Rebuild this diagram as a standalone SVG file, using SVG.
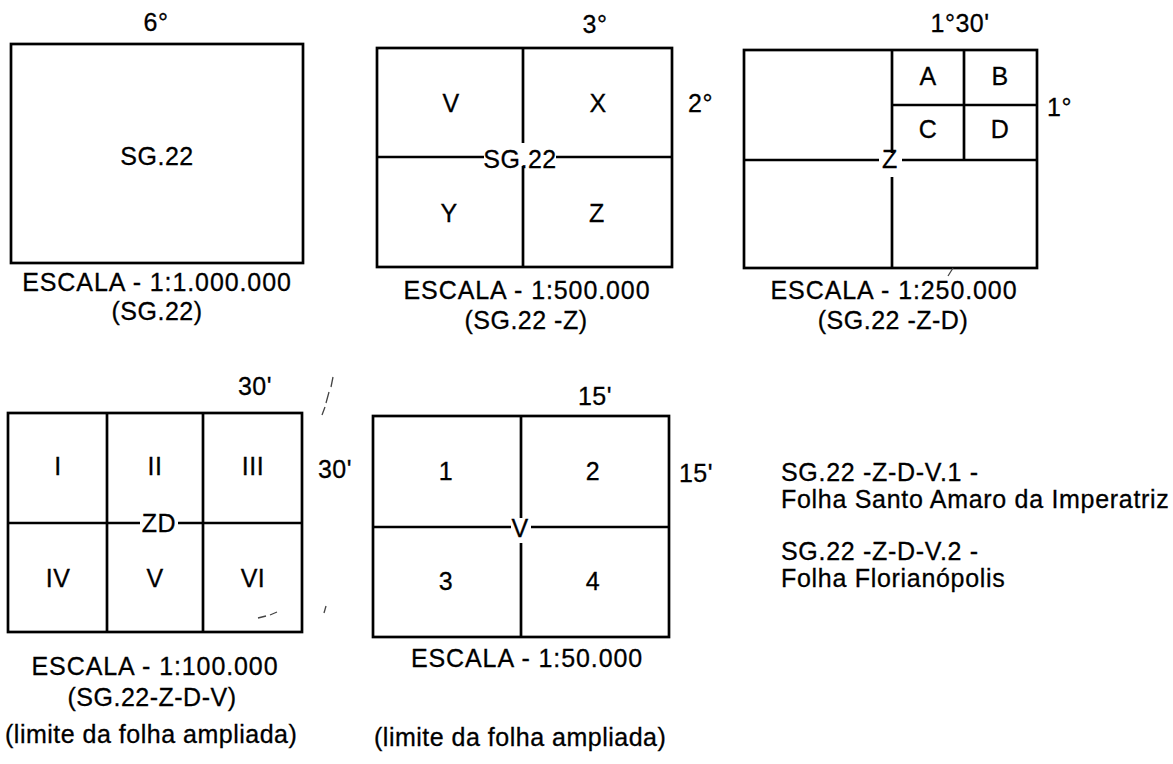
<svg xmlns="http://www.w3.org/2000/svg" width="1173" height="764" viewBox="0 0 1173 764">
<style>
.frame{fill:none;stroke:#000;stroke-width:2.7}
.ln{stroke:#000;stroke-width:2.7;fill:none}
.art{stroke:#444;stroke-width:1.3;fill:none}
text{font-family:"Liberation Sans",Arial,Helvetica,sans-serif;font-size:25px;fill:#000;stroke:#000;stroke-width:0.3;letter-spacing:0.5px}
.c{text-anchor:middle}
.esc{letter-spacing:0.9px}
.lg{letter-spacing:0.7px}
</style>
<rect width="1173" height="764" fill="#fff"/>
<g id="sheet-1000000">
<rect class="frame" x="11" y="44" width="292" height="219"/>
<text class="c" x="157" y="165">SG.22</text>
<text class="c" x="156" y="31">6°</text>
<text class="c esc" x="157" y="291">ESCALA - 1:1.000.000</text>
<text class="c" x="157" y="320">(SG.22)</text>
</g>
<g id="sheet-500000">
<rect class="frame" x="377" y="48" width="295" height="219"/>
<path class="ln" d="M377 157H484M556 157H672M523 48V143M523 166V267"/>
<text class="c" x="520" y="168">SG.22</text>
<text class="c" x="451" y="112">V</text>
<text class="c" x="598" y="112">X</text>
<text class="c" x="449" y="222">Y</text>
<text class="c" x="597" y="222">Z</text>
<text class="c" x="595" y="33">3°</text>
<text x="688" y="112">2°</text>
<text class="c esc" x="527" y="299">ESCALA - 1:500.000</text>
<text class="c" x="526" y="329">(SG.22 -Z)</text>
</g>
<g id="sheet-250000">
<rect class="frame" x="744" y="50" width="293" height="218"/>
<path class="ln" d="M744 160H879M902 160H1037M892 50V153M892 177V268M892 105H1037M964 50V160"/>
<text class="c" x="890" y="168">Z</text>
<text class="c" x="928" y="85">A</text>
<text class="c" x="1000" y="85">B</text>
<text class="c" x="928" y="138">C</text>
<text class="c" x="1000" y="138">D</text>
<text class="c" x="960" y="32">1°30'</text>
<text x="1047" y="116">1°</text>
<text class="c esc" x="894" y="299">ESCALA - 1:250.000</text>
<text class="c" x="893" y="329">(SG.22 -Z-D)</text>
</g>
<g id="sheet-100000">
<rect class="frame" x="8" y="413" width="294" height="219"/>
<path class="ln" d="M107 413V632M203 413V632M8 523H140M178 523H302"/>
<text class="c" x="159" y="532">ZD</text>
<text class="c" x="58" y="475">I</text>
<text class="c" x="155" y="475">II</text>
<text class="c" x="253" y="475">III</text>
<text class="c" x="58" y="587">IV</text>
<text class="c" x="155" y="587">V</text>
<text class="c" x="253" y="587">VI</text>
<text class="c" x="255" y="395">30'</text>
<text class="c" x="335" y="478">30'</text>
<text class="c esc" x="155" y="675">ESCALA - 1:100.000</text>
<text class="c" x="152" y="706">(SG.22-Z-D-V)</text>
<text x="5" y="743">(limite da folha ampliada)</text>
</g>
<g id="sheet-50000">
<rect class="frame" x="373" y="416" width="296" height="221"/>
<path class="ln" d="M373 527H511M531 527H669M521 416V518M521 543V637"/>
<text class="c" x="520" y="537">V</text>
<text class="c" x="446" y="480">1</text>
<text class="c" x="593" y="480">2</text>
<text class="c" x="446" y="590">3</text>
<text class="c" x="593" y="590">4</text>
<text class="c" x="595" y="405">15'</text>
<text class="c" x="696" y="482">15'</text>
<text class="c esc" x="527" y="667">ESCALA - 1:50.000</text>
<text x="374" y="746">(limite da folha ampliada)</text>
</g>
<g id="legend">
<text class="lg" x="781" y="481">SG.22 -Z-D-V.1 -</text>
<text class="lg" x="781" y="508">Folha Santo Amaro da Imperatriz</text>
<text class="lg" x="781" y="560">SG.22 -Z-D-V.2 -</text>
<text class="lg" x="781" y="587">Folha Florianópolis</text>
</g>
<g id="connectors">
<path class="art" d="M333 377L331 387M329 392L326 403M325 407L322 415"/>
<path class="art" d="M326 606L324 613"/>
<path class="art" d="M258 618L266 616M270 615L277 612"/>
<path class="art" d="M948 276L953 268"/>
</g>
</svg>
